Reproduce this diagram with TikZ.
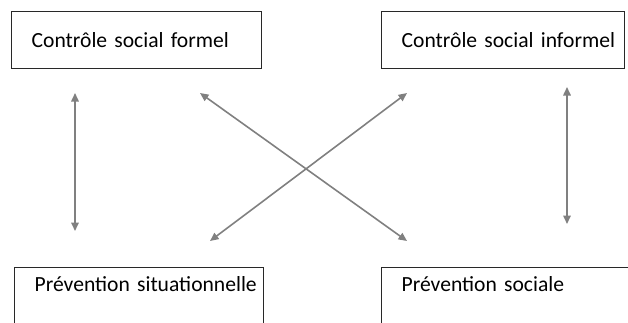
\documentclass[tikz,border=0pt]{standalone}
\usepackage{fontspec}
\setmainfont{Carlito}
\usetikzlibrary{arrows.meta}
\definecolor{boxline}{RGB}{40,40,40}
\definecolor{arrgray}{RGB}{128,128,128}

\begin{document}
\begin{tikzpicture}[
      x=1pt, y=-1pt,
      box/.style={rectangle, draw=boxline, line width=1.3pt, anchor=north west, inner ysep=0pt, inner xsep=20pt, align=left, font=\fontsize{21.6pt}{26pt}\selectfont},
      topbox/.style={box, text height=36pt, text depth=21pt},
      lowbox/.style={box, text height=24pt, text depth=33pt},
      arr/.style={{Triangle[length=8.5pt, width=7.5pt]}-{Triangle[length=8.5pt, width=7.5pt]}, line width=1.6pt, color=arrgray}
    ]
      \useasboundingbox (0,0) rectangle (628,322);
      \clip (0,0) rectangle (628,322);

      % Top: control
      \node[topbox, text width=210pt] (formel) at (11,11) {\mbox{Contrôle social formel}};
      \node[topbox, text width=203pt] (informel) at (381,11) {\mbox{Contrôle social informel}};

      % Bottom: prevention
      \node[lowbox, text width=209pt] (situ) at (14,267) {\mbox{Prévention situationnelle}};
      \node[lowbox, text width=210pt] (sociale) at (381,267) {\mbox{Prévention sociale}};

      % Arrow ends
      \coordinate (fl) at (75,93);   \coordinate (sl) at (75,231);
      \coordinate (ir) at (567,87);  \coordinate (sr) at (567,224);
      \coordinate (fd) at (200,93);  \coordinate (sd) at (407,241);
      \coordinate (id) at (407,93);  \coordinate (td) at (210,241);

      % Links
      \draw[arr] (fl) -- (sl);
      \draw[arr] (ir) -- (sr);
      \draw[arr] (fd) -- (sd);
      \draw[arr] (id) -- (td);
    \end{tikzpicture}
\end{document}
